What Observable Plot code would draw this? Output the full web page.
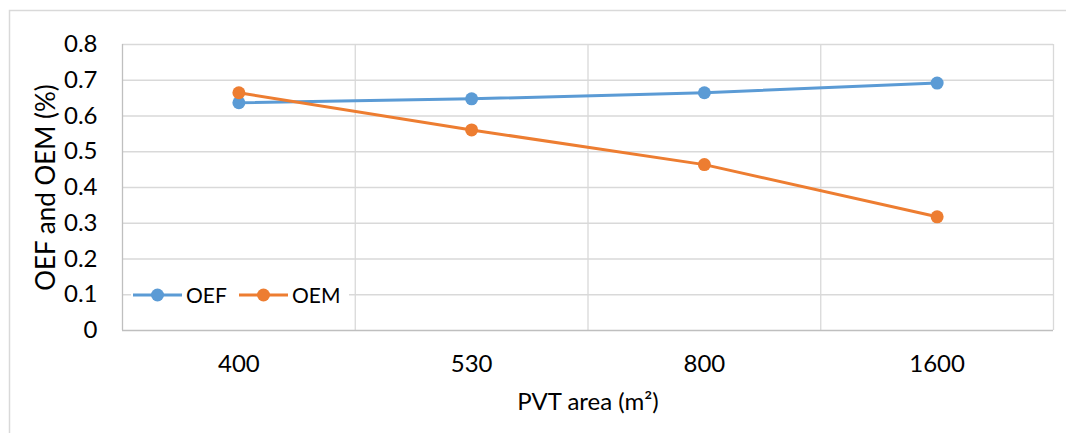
<!DOCTYPE html>
<html><head><meta charset="utf-8">
<script src="https://cdn.jsdelivr.net/npm/d3@7"></script>
<script src="https://cdn.jsdelivr.net/npm/@observablehq/plot@0.6"></script>
<style>html,body{margin:0;padding:0;background:#fff;} body{width:1066px;height:433px;overflow:hidden;}</style>
</head><body><div id="chart"></div>
<script>
const categories = ["400", "530", "800", "1600"];
const oef = [0.637, 0.648, 0.665, 0.692];
const oem = [0.665, 0.561, 0.464, 0.318];
const seriesNames = ["OEF", "OEM"];
const seriesColors = ["#5b9bd5", "#ed7d31"];
const yTicks = [0, 0.1, 0.2, 0.3, 0.4, 0.5, 0.6, 0.7, 0.8];
const xTitle = "PVT area (m²)";
const yTitle = "OEF and OEM (%)";

const seriesValues = [oef, oem];
const data = categories.flatMap((c, i) => seriesNames.map((s, k) => ({cat: c, idx: i + 0.5, series: s, value: seriesValues[k][i]})));
const bounds = d3.range(1, categories.length + 1);
const hGrid = yTicks.filter(d => d > 0);

const chart = Plot.plot({
  width: 1066, height: 433,
  marginLeft: 122, marginRight: 13, marginTop: 44, marginBottom: 103,
  style: {fontFamily: "Lato, sans-serif", fontSize: "24px", color: "#000", background: "#fff"},
  x: {domain: [0, categories.length]},
  y: {domain: [0, 0.8]},
  color: {domain: seriesNames, range: seriesColors},
  marks: [
    Plot.ruleY(hGrid, {stroke: "#d9d9d9", strokeWidth: 1.3}),
    Plot.ruleX(bounds, {stroke: "#d9d9d9", strokeWidth: 1.3}),
    Plot.ruleX([0], {stroke: "#bfbfbf", strokeWidth: 1.3}),
    Plot.ruleY([0], {stroke: "#bfbfbf", strokeWidth: 1.3}),
    Plot.axisX({ticks: categories.map((c, i) => i + 0.5), tickFormat: v => categories[Math.round(v - 0.5)],
      tickSize: 0, tickPadding: 24, fontSize: 24, fill: "#000",
      label: xTitle, labelAnchor: "center", labelOffset: 79, labelArrow: "none"}),
    Plot.axisY({ticks: yTicks, tickFormat: d => d === 0 ? "0" : d.toFixed(1),
      tickSize: 0, tickPadding: 25, fontSize: 24, fill: "#000",
      label: yTitle, labelAnchor: "center", labelOffset: 86, labelArrow: "none"}),
    Plot.line(data, {x: "idx", y: "value", z: "series", stroke: "series", strokeWidth: 3}),
    Plot.dot(data, {x: "idx", y: "value", fill: "series", r: 6.5})
  ]
});
document.getElementById("chart").appendChild(chart);

const svg = d3.select(chart);
svg.selectAll("g[aria-label$='tick label']").each(function() {
  d3.select(this).attr("font-size", 24).style("font-size", "24px");
  d3.select(this).selectAll("text").style("font-size", "24px");
});
svg.selectAll("g[aria-label='y-axis label']").each(function() {
  d3.select(this).attr("font-size", 26).style("font-size", "26px");
  d3.select(this).selectAll("text").style("font-size", "26px");
});
svg.selectAll("g[aria-label='x-axis label']").each(function() {
  d3.select(this).attr("font-size", 24).style("font-size", "24px");
  d3.select(this).selectAll("text").style("font-size", "24px");
});

// outer chart border
svg.append("rect").attr("x", 9.5).attr("y", 10.5).attr("width", 1200).attr("height", 600)
  .attr("fill", "none").attr("stroke", "#d9d9d9").attr("stroke-width", 1.5);

// legend
const lg = svg.append("g").attr("font-family", "Lato, sans-serif").attr("font-size", 21).attr("text-anchor", "start");
lg.append("rect").attr("x", 131).attr("y", 283).attr("width", 218).attr("height", 24).attr("fill", "#fff");
seriesNames.forEach((name, i) => {
  const x0 = 133 + i * 106, y0 = 295;
  lg.append("line").attr("x1", x0).attr("x2", x0 + 49).attr("y1", y0).attr("y2", y0)
    .attr("stroke", seriesColors[i]).attr("stroke-width", 3);
  lg.append("circle").attr("cx", x0 + 24.5).attr("cy", y0).attr("r", 6.5).attr("fill", seriesColors[i]);
  lg.append("text").attr("x", x0 + 53).attr("y", y0).attr("dy", "0.36em").attr("fill", "#000")
    .attr("text-anchor", "start").text(name);
});
</script></body></html>
